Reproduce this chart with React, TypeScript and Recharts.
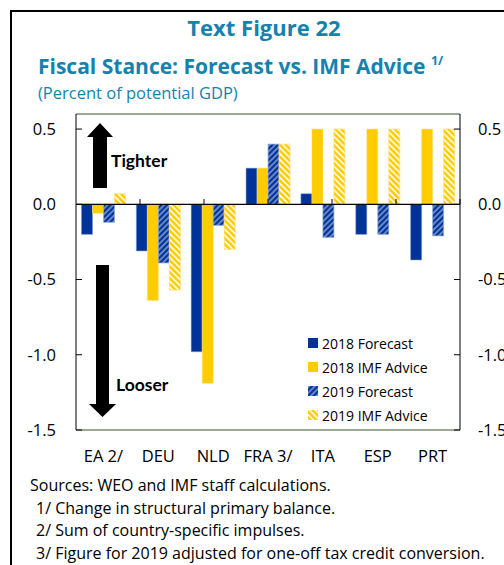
import React from "react";
import { BarChart, Bar, XAxis, YAxis, ReferenceLine, Legend } from "recharts";

const categories = ["EA 2/", "DEU", "NLD", "FRA 3/", "ITA", "ESP", "PRT"];
const forecast2018 = [-0.2, -0.31, -0.98, 0.24, 0.07, -0.2, -0.37];
const advice2018 = [-0.06, -0.64, -1.19, 0.24, 0.5, 0.5, 0.5];
const forecast2019 = [-0.12, -0.39, -0.14, 0.4, -0.22, -0.2, -0.21];
const advice2019 = [0.07, -0.57, -0.3, 0.4, 0.5, 0.5, 0.5];
const yTicks = [-1.5, -1.0, -0.5, 0.0, 0.5];
const boundaries = [1, 2, 3, 4, 5, 6];

const data = categories.map((c, i) => ({
  name: c,
  f18: forecast2018[i],
  a18: advice2018[i],
  f19: forecast2019[i],
  a19: advice2019[i],
}));

const BLUE = "#003399";
const YELLOW = "#FFCC00";
const TEAL = "#1582AE";
const FONT = "'Open Sans', 'Noto Sans', sans-serif";
const TICK_FS = 16.5;

const legendItems = [
  { label: "2018 Forecast", fill: BLUE },
  { label: "2018 IMF Advice", fill: YELLOW },
  { label: "2019 Forecast", fill: "url(#hatchBlue)" },
  { label: "2019 IMF Advice", fill: "url(#hatchYellow)" },
];

const LegendContent = () => (
  <div style={{ fontFamily: FONT, fontSize: 14, color: "#000" }}>
    {legendItems.map((it) => (
      <div key={it.label} style={{ display: "flex", alignItems: "center", height: 24 }}>
        <svg width={10} height={10} style={{ marginRight: 4 }}>
          <rect x={0} y={0} width={10} height={10} fill={it.fill} />
        </svg>
        <span>{it.label}</span>
      </div>
    ))}
  </div>
);

export default function App() {
  return (
    <div
      style={{
        position: "absolute",
        left: 0,
        top: 0,
        width: 504,
        height: 565,
        overflow: "hidden",
        background: "#fff",
        fontFamily: FONT,
      }}
    >
      <svg width={0} height={0} style={{ position: "absolute" }}>
        <defs>
          <pattern id="hatchBlue" patternUnits="userSpaceOnUse" width={4} height={4} patternTransform="rotate(45)">
            <rect x={0} y={0} width={4} height={4} fill={BLUE} />
            <line x1={1} y1={0} x2={1} y2={4} stroke="#9DB3E0" strokeWidth={1.3} />
          </pattern>
          <pattern id="hatchYellow" patternUnits="userSpaceOnUse" width={4.2} height={4.2} patternTransform="rotate(-45)">
            <rect x={0} y={0} width={4.2} height={4.2} fill={YELLOW} />
            <line x1={1} y1={0} x2={1} y2={4.2} stroke="#FFFFFF" strokeWidth={1.6} />
          </pattern>
        </defs>
      </svg>

      {/* outer frame */}
      <div
        style={{
          position: "absolute",
          left: 10,
          top: 10,
          width: 600,
          height: 700,
          borderLeft: "2px solid #000",
          borderTop: "2px solid #000",
        }}
      />

      <div
        style={{
          position: "absolute",
          left: 0,
          top: 12,
          width: 528,
          textAlign: "center",
          color: TEAL,
          fontWeight: 700,
          fontSize: 22,
          lineHeight: "30px",
        }}
      >
        Text Figure 22
      </div>
      <div
        style={{
          position: "absolute",
          left: 38,
          top: 52,
          color: TEAL,
          fontWeight: 700,
          fontSize: 21,
          lineHeight: "29px",
          whiteSpace: "nowrap",
        }}
      >
        Fiscal Stance: Forecast vs. IMF Advice{" "}
        <span style={{ fontSize: 12.5, position: "relative", top: -9 }}>1/</span>
      </div>
      <div
        style={{
          position: "absolute",
          left: 38,
          top: 81,
          color: TEAL,
          fontSize: 16.5,
          lineHeight: "24px",
          whiteSpace: "nowrap",
        }}
      >
        (Percent of potential GDP)
      </div>

      <div style={{ position: "absolute", left: 0, top: 0 }}>
        <BarChart
          width={504}
          height={470}
          data={data}
          margin={{ top: 114, right: 0, bottom: 10, left: 36 }}
          barCategoryGap="10%"
          barGap={0}
        >
          <XAxis
            dataKey="name"
            axisLine={{ stroke: "#375623", strokeWidth: 1.2 }}
            tickLine={false}
            tickSize={0}
            tickMargin={20}
            height={30}
            interval={0}
            tick={{ fill: "#000", fontSize: TICK_FS, fontFamily: FONT }}
          />
          <XAxis xAxisId="num" type="number" domain={[0, 7]} hide />
          <YAxis
            yAxisId="left"
            orientation="left"
            width={40}
            domain={[-1.5, 0.6]}
            ticks={yTicks}
            tickFormatter={(v: number) => v.toFixed(1)}
            axisLine={{ stroke: "#000" }}
            tickLine={{ stroke: "#000" }}
            tickSize={-6}
            tickMargin={26}
            allowDataOverflow
            tick={{ fill: "#000", fontSize: TICK_FS, fontFamily: FONT }}
          />
          <YAxis
            yAxisId="right"
            orientation="right"
            width={44}
            domain={[-1.5, 0.6]}
            ticks={yTicks}
            tickFormatter={(v: number) => v.toFixed(1)}
            axisLine={{ stroke: "#000" }}
            tickLine={{ stroke: "#000" }}
            tickSize={-6}
            tickMargin={24}
            allowDataOverflow
            tick={{ fill: "#000", fontSize: TICK_FS, fontFamily: FONT }}
          />
          <Bar yAxisId="left" dataKey="f18" fill={BLUE} stroke="#7F95C8" strokeWidth={0.5} isAnimationActive={false} />
          <Bar yAxisId="left" dataKey="a18" fill={YELLOW} stroke="#FFE07A" strokeWidth={0.5} isAnimationActive={false} />
          <Bar yAxisId="left" dataKey="f19" fill="url(#hatchBlue)" stroke="#8EA6D8" strokeWidth={0.7} isAnimationActive={false} />
          <Bar yAxisId="left" dataKey="a19" fill="url(#hatchYellow)" stroke="#FFE07A" strokeWidth={0.7} isAnimationActive={false} />
          <ReferenceLine yAxisId="left" y={0} stroke="#000" strokeWidth={1.2} />
          <ReferenceLine yAxisId="left" y={0.6} stroke="#375623" strokeWidth={1.2} ifOverflow="visible" />
          {boundaries.map((b) => (
            <ReferenceLine
              key={b}
              xAxisId="num"
              yAxisId="left"
              segment={[
                { x: b, y: 0 },
                { x: b, y: 0.035 },
              ]}
              stroke="#000"
              strokeWidth={1}
            />
          ))}
          <Legend
            layout="vertical"
            align="center"
            verticalAlign="middle"
            content={<LegendContent />}
            wrapperStyle={{ position: "absolute", left: 308, top: 331, width: 160 }}
          />
        </BarChart>
      </div>

      {/* direction arrows */}
      <svg width={504} height={565} style={{ position: "absolute", left: 0, top: 0, pointerEvents: "none" }}>
        <polygon points="100,123 113,137 107,137 107,188 93,188 93,137 87,137" fill="#000" />
        <polygon points="96,265 109,265 109,404 116,404 102.5,417 89,404 96,404" fill="#000" />
        <text x={111} y={167} fontFamily="Lato, 'Open Sans', sans-serif" fontWeight={700} fontSize={17.5} fill="#000">
          Tighter
        </text>
        <text x={116} y={391} fontFamily="Lato, 'Open Sans', sans-serif" fontWeight={700} fontSize={17.5} fill="#000">
          Looser
        </text>
      </svg>

      <div
        style={{
          position: "absolute",
          left: 30,
          top: 474,
          fontSize: 16,
          lineHeight: "22.5px",
          color: "#000",
          whiteSpace: "nowrap",
        }}
      >
        <div>Sources: WEO and IMF staff calculations.</div>
        <div style={{ paddingLeft: 6 }}>1/ Change in structural primary balance.</div>
        <div style={{ paddingLeft: 6 }}>2/ Sum of country-specific impulses.</div>
        <div style={{ paddingLeft: 6 }}>3/ Figure for 2019 adjusted for one-off tax credit conversion.</div>
      </div>
    </div>
  );
}
